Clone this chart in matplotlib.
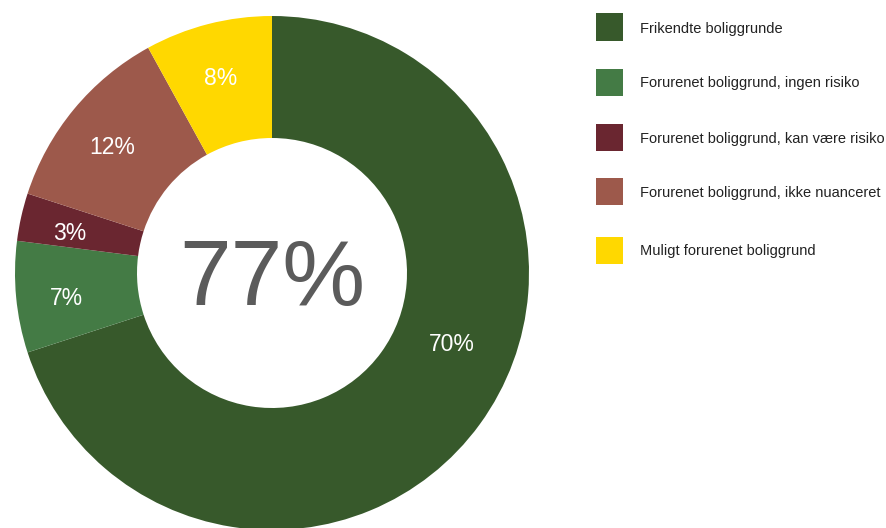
import matplotlib
matplotlib.use("Agg")
import matplotlib.pyplot as plt
import numpy as np
from matplotlib.patches import Rectangle

categories = ["Frikendte boliggrunde",
              "Forurenet boliggrund, ingen risiko",
              "Forurenet boliggrund, kan være risiko",
              "Forurenet boliggrund, ikke nuanceret",
              "Muligt forurenet boliggrund"]
values = [70, 7, 3, 12, 8]
labels = ["70%", "7%", "3%", "12%", "8%"]
center_label = "77%"
colors = ["#37592b", "#447b45", "#6a2630", "#9d594b", "#ffd800"]

W, H = 886, 528
fig = plt.figure(figsize=(W / 100, H / 100), dpi=100)

cx, cy, R = 272, 273, 257
ax = fig.add_axes([(cx - R) / W, (H - cy - R) / H, 2 * R / W, 2 * R / H])

wedges, _ = ax.pie(values, colors=colors, startangle=90, counterclock=False,
                   radius=1.0, wedgeprops=dict(width=122 / 257, linewidth=0),
                   center=(0, 0))
ax.set_xlim(-1, 1)
ax.set_ylim(-1, 1)
ax.set_aspect("equal")
ax.axis("off")

# label positions
total = sum(values)
start = 90.0
for i, (v, lab) in enumerate(zip(values, labels)):
    span = v / total * 360
    mid = start - span / 2
    r = 0.805
    dy = -0.014
    if span > 180:
        mid = start - span * 0.44
        r = 0.75
        dy = 0.0
    x, y = r * np.cos(np.radians(mid)), r * np.sin(np.radians(mid)) + dy
    ax.text(x, y, lab, color="white", fontsize=16.5, ha="center",
            va="center_baseline", family="Liberation Sans")
    start -= span

ax.text(0, -0.124, center_label, color="#5b5b5b", fontsize=67, ha="center",
        va="baseline", family="Liberation Sans")

# legend
rows_y = [27, 82, 137, 191, 250]
for yy, cat, col in zip(rows_y, categories, colors):
    fig.patches.append(Rectangle((596 / W, (H - yy - 13.5) / H), 27 / W, 27 / H,
                                 transform=fig.transFigure, facecolor=col,
                                 edgecolor="none"))
    fig.text(640 / W, (H - yy) / H, cat, fontsize=10.5, color="#222222",
             ha="left", va="center_baseline", family="Liberation Sans")

fig.savefig("out.png", dpi=100)
